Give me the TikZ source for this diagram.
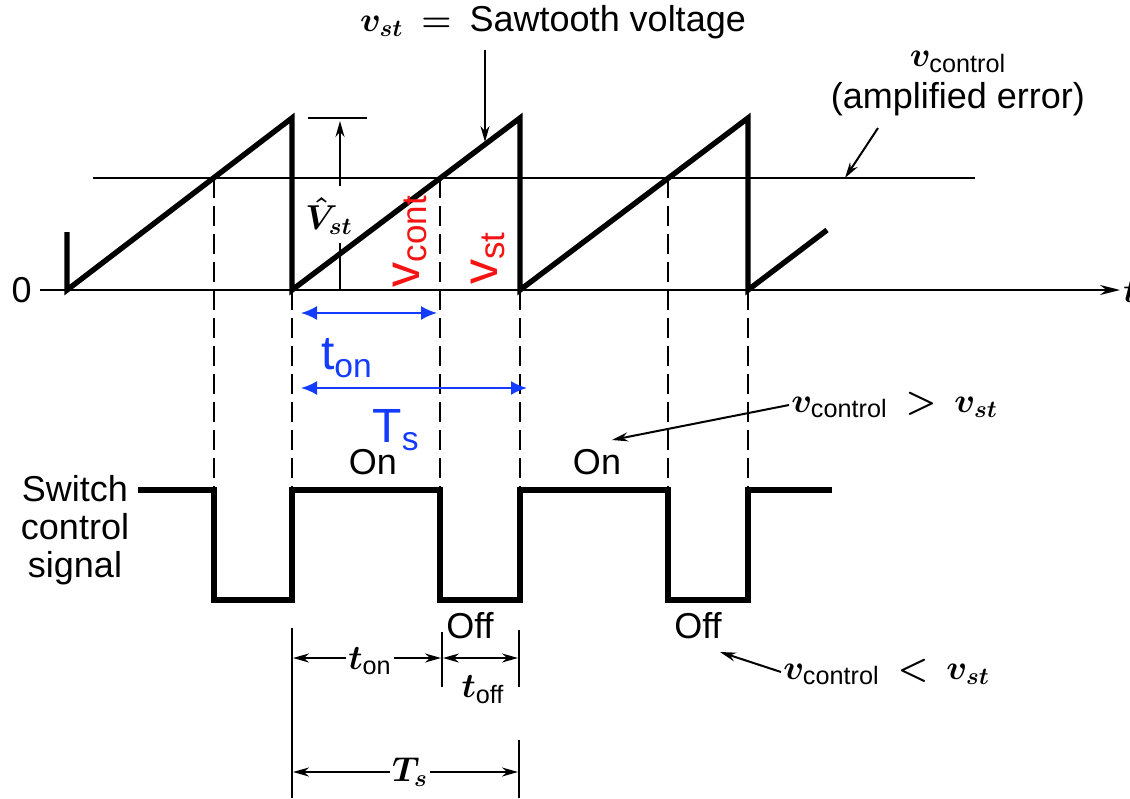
\documentclass[tikz,border=0pt]{standalone}
\usepackage{amsmath}
\usepackage{fontspec}
\setmainfont{Liberation Sans}
\usetikzlibrary{arrows.meta}
\definecolor{ann}{RGB}{245,20,20}
\definecolor{dimc}{RGB}{20,60,255}

\begin{document}
\begin{tikzpicture}[x=0.5pt,y=-0.5pt,
  wave/.style={line width=2.7pt},
  thinline/.style={line width=1pt},
  guide/.style={line width=1pt,dash pattern=on 10pt off 4pt},
  lbl/.style={font=\fontsize{18}{19}\selectfont\boldmath,inner sep=1pt},
  redlbl/.style={text=ann,font=\fontsize{25}{26}\selectfont,rotate=90,inner sep=0pt},
  bluelbl/.style={text=dimc,font=\fontsize{24}{26}\selectfont,inner sep=0pt},
  dimarrow/.style={dimc,line width=1pt,{Latex[length=8pt,width=7pt]}-{Latex[length=8pt,width=7pt]}},
  pointer/.style={thinline,-{Stealth[length=8pt,width=4.5pt]}}]
  \useasboundingbox (0,0) rectangle (1130,798);

  % time axis and control level
  \coordinate (o) at (40,290);
  \coordinate (tend) at (1120,290);
  \draw[thinline,-{Stealth[length=10pt,width=5pt]}] (o) -- (tend);
  \node[lbl,anchor=east] (zero) at (34,290) {0};
  \node[lbl,anchor=west] (tlab) at (1121,292) {$t$};
  \coordinate (c0) at (93,178);
  \coordinate (c1) at (975,178);
  \draw[thinline] (c0) -- (c1);

  % sawtooth
  \coordinate (p1) at (292,118);
  \coordinate (p2) at (520,118);
  \coordinate (p3) at (748,118);
  \coordinate (b1) at (292,290);
  \coordinate (b2) at (520,290);
  \coordinate (b3) at (748,290);
  \coordinate (x1) at (214,178);
  \coordinate (x2) at (440,178);
  \coordinate (x3) at (668,178);
  \draw[wave] (67,232) -- (67,290) -- (p1) -- (b1) -- (p2) -- (b2) -- (p3) -- (b3) -- (827,230);

  % switch control signal
  \draw[wave] (138,490) -- (214,490) -- (214,600) -- (292,600) -- (292,490) -- (440,490)
    -- (440,600) -- (520,600) -- (520,490) -- (668,490) -- (668,600) -- (748,600)
    -- (748,490) -- (832,490);
  \node[lbl,align=center] (swlab) at (75,530) {Switch\\control\\signal};

  % guides
  \draw[guide] (x1) -- (214,490);
  \draw[guide] (x2) -- (440,490);
  \draw[guide] (x3) -- (668,490);
  \draw[guide] (b1) -- (292,490);
  \draw[guide] (b2) -- (520,490);
  \draw[guide] (b3) -- (748,490);

  % peak amplitude
  \draw[thinline] (308,118) -- (367,118);
  \draw[pointer] (340,186) -- (340,121);
  \draw[thinline] (340,243) -- (340,290);
  \node[font=\fontsize{18}{19}\selectfont\boldmath,inner sep=0pt] (vhat) at (329,216) {$\hat{V}_{st}$};

  % labels on the top
  \node[lbl] (sawlab) at (553,22) {$v_{st}$\enspace$=$\enspace Sawtooth voltage};
  \coordinate (sawtail) at (485,50);
  \coordinate (sawtip) at (485,142);
  \draw[pointer] (sawtail) -- (sawtip);
  \node[lbl,align=center,font=\fontsize{18}{21}\selectfont\boldmath] (ctrllab) at (958,84) {$v_{\text{control}}$\\(amplified error)};
  \coordinate (ctrltip) at (845,178);
  \draw[pointer] (878,128) -- (ctrltip);

  % red and blue annotations
  \node[redlbl] (vcont) at (410,241) {$\text{v}_{\text{cont}}$};
  \node[redlbl] (vst) at (488,258) {$\text{v}_{\text{st}}$};
  \coordinate (onL) at (301,313);
  \coordinate (onR) at (437,313);
  \coordinate (tsL) at (301,388);
  \coordinate (tsR) at (527,388);
  \draw[dimarrow] (onL) -- (onR);
  \draw[dimarrow] (tsL) -- (tsR);
  \node[bluelbl] (tonblue) at (347,358) {$\text{t}_{\text{on}}$};
  \node[bluelbl] (tsblue) at (396,430) {$\text{T}_{\text{s}}$};

  % on / off
  \node[lbl] (on1) at (373,462) {On};
  \node[lbl] (on2) at (597,462) {On};
  \node[lbl] (off1) at (470,626) {Off};
  \node[lbl] (off2) at (698,626) {Off};
  \node[lbl,anchor=west] (gtlab) at (789,405) {$v_{\text{control}}$\enspace$>$\enspace$v_{st}$};
  \coordinate (gttip) at (612,440);
  \draw[pointer] (gtlab.west) -- (gttip);
  \node[lbl,anchor=west] (ltlab) at (781,672) {$v_{\text{control}}$\enspace$<$\enspace$v_{st}$};
  \coordinate (lttip) at (720,652);
  \draw[pointer] (ltlab.west) -- (lttip);

  % time intervals
  \draw[thinline] (292,628) -- (292,798);
  \draw[thinline] (442,632) -- (442,687);
  \draw[thinline] (519,630) -- (519,687);
  \draw[thinline] (519,740) -- (519,798);
  \coordinate (tonL) at (293,658);
  \coordinate (tonR) at (441,658);
  \coordinate (toffR) at (518,658);
  \coordinate (tsbL) at (293,772);
  \coordinate (tsbR) at (518,772);
  \node[lbl] (tonlab) at (370,661) {$t_{\text{on}}$};
  \node[lbl] (tofflab) at (483,690) {$t_{\text{off}}$};
  \node[lbl] (tslab) at (410,772) {$T_s$};
  \draw[pointer] (tonlab.west |- tonL) -- (tonL);
  \draw[pointer] (tonlab.east |- tonL) -- (tonR);
  \draw[thinline,{Stealth[length=8pt,width=4.5pt]}-{Stealth[length=8pt,width=4.5pt]}] (443,658) -- (toffR);
  \draw[pointer] (tslab.west |- tsbL) -- (tsbL);
  \draw[pointer] (tslab.east |- tsbL) -- (tsbR);
\end{tikzpicture}
\end{document}
